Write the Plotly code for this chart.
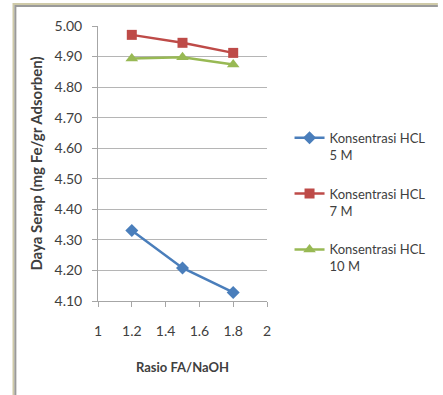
import plotly.graph_objects as go

ratio = [1.2, 1.5, 1.8]
hcl_5m = [4.331, 4.208, 4.128]
hcl_7m = [4.971, 4.945, 4.912]
hcl_10m = [4.894, 4.898, 4.874]
series_names = ["Konsentrasi HCL<br>5 M", "Konsentrasi HCL<br>7 M", "Konsentrasi HCL<br>10 M"]

W, H = 443, 395
L, R, T, B = 98, 278, 26, 301.4

def px_x(px):
    return (px - L) / (R - L)

def px_y(py):
    return (B - py) / (B - T)

FONT = "Lato, 'Open Sans', sans-serif"

fig = go.Figure()
styles = [
    ("#4a7ebb", "diamond", 10),
    ("#be4b48", "square", 10),
    ("#98b954", "triangle-up", 11),
]
for i, (vals, name) in enumerate(zip([hcl_5m, hcl_7m, hcl_10m], series_names)):
    c, sym, sz = styles[i]
    fig.add_trace(go.Scatter(
        x=ratio, y=vals, name=name, mode="lines+markers",
        line=dict(color=c, width=2.5),
        marker=dict(color=c, symbol=sym, size=sz),
        legendgroup=f"g{i}",
    ))

shapes = [
    dict(type="line", xref="paper", yref="paper", x0=px_x(8), x1=px_x(460),
         y0=px_y(4), y1=px_y(4), line=dict(color="#cfcaa8", width=2)),
    dict(type="line", xref="paper", yref="paper", x0=px_x(10), x1=px_x(460),
         y0=px_y(6), y1=px_y(6), line=dict(color="#9a9a9a", width=2)),
    dict(type="line", xref="paper", yref="paper", x0=px_x(8), x1=px_x(8),
         y0=px_y(3), y1=px_y(420), line=dict(color="#cfcaa8", width=2)),
    dict(type="line", xref="paper", yref="paper", x0=px_x(10), x1=px_x(10),
         y0=px_y(5), y1=px_y(420), line=dict(color="#9a9a9a", width=2)),
]

fig.update_layout(
    width=W, height=H,
    margin=dict(l=L, r=W - R, t=T, b=H - B),
    paper_bgcolor="white", plot_bgcolor="white",
    font=dict(family=FONT, size=13, color="#404040"),
    shapes=shapes,
    showlegend=True,
    legend=dict(
        x=px_x(302), y=px_y(123), xanchor="left", yanchor="top",
        valign="top", tracegroupgap=19,
        font=dict(family=FONT, size=13, color="#404040"),
        bgcolor="rgba(0,0,0,0)",
    ),
    xaxis=dict(
        range=[1, 2], dtick=0.2, tick0=1, showgrid=False,
        showline=True, linecolor="#a6a6a6", linewidth=1,
        ticks="outside", ticklen=5, tickcolor="#a6a6a6",
        tickfont=dict(size=14), zeroline=False, ticklabelstandoff=12,
        title=dict(text="<b>Rasio FA/NaOH</b>", font=dict(size=13, color="#404040"), standoff=25),
    ),
    yaxis=dict(
        range=[4.10, 5.00], dtick=0.1, tick0=4.1, tickformat=".2f",
        showgrid=True, gridcolor="#b5b5b5", gridwidth=1,
        showline=True, linecolor="#a6a6a6", linewidth=1,
        ticks="outside", ticklen=5, tickcolor="#a6a6a6",
        tickfont=dict(size=14), zeroline=False, ticklabelstandoff=7,
        title=dict(text="<b>Daya Serap (mg Fe/gr Adsorben)</b>", font=dict(size=15, color="#404040"), standoff=8),
    ),
)

fig.write_html("out.html")
